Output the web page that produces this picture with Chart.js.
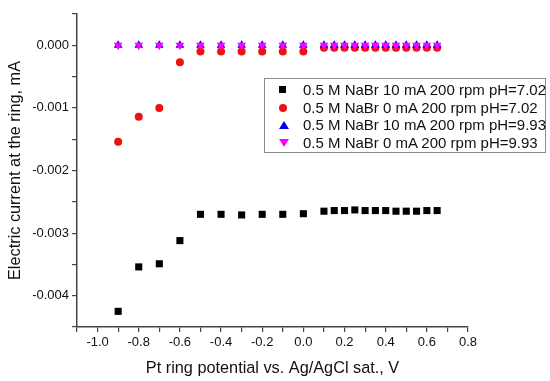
<!DOCTYPE html>
<html>
<head>
<meta charset="utf-8">
<script src="https://cdn.jsdelivr.net/npm/chart.js@4/dist/chart.umd.min.js"></script>
<style>
    body { margin: 0; background: #fff; overflow: hidden; }
    #wrap { position: relative; width: 550px; height: 381px; }
    #legendBox {
        position: absolute; left: 264px; top: 78px; width: 280px; height: 73px;
        border: 1px solid #8a8a8a; background: #fff;
        font-family: "Liberation Sans", Arial, sans-serif; font-size: 15px; color: #111;
    }
    .row { position: absolute; left: 0; height: 18px; line-height: 18px; white-space: nowrap; }
    .row .mk { position: absolute; left: 14px; top: 5px; }
    .row .txt { position: absolute; left: 38px; top: 0; }
    .sq { width: 7px; height: 7px; background: #000; }
    .ci { width: 8px; height: 8px; border-radius: 50%; background: #ee1111; top: 5px !important; }
    .up { width: 0; height: 0; border-left: 5px solid transparent; border-right: 5px solid transparent; border-bottom: 8px solid #0000ee; }
    .dn { width: 0; height: 0; border-left: 5px solid transparent; border-right: 5px solid transparent; border-top: 8px solid #ff00ff; }
</style>
</head>
<body>
<div id="wrap">
    <canvas id="ringChart" width="550" height="381"></canvas>
    <div id="legendBox"></div>
</div>
<script>
// potentials, V
var potentials = [-0.9, -0.8, -0.7, -0.6, -0.5, -0.4, -0.3, -0.2, -0.1, 0.0,
    0.1, 0.15, 0.2, 0.25, 0.3, 0.35, 0.4, 0.45, 0.5, 0.55, 0.6, 0.65];

// ring current, mA
var ph702_10mA = [-0.00425, -0.00354, -0.00349, -0.00312, -0.00270, -0.00270, -0.00271, -0.00270, -0.00270, -0.00269,
    -0.00265, -0.00264, -0.00264, -0.00263, -0.00264, -0.00264, -0.00264, -0.00265, -0.00265, -0.00265, -0.00264, -0.00264];
var ph702_0mA = [-0.00154, -0.00114, -0.00100, -0.00027, -0.00010, -0.00010, -0.00010, -0.00010, -0.00010, -0.00010,
    -0.00004, -0.00004, -0.00004, -0.00004, -0.00004, -0.00004, -0.00004, -0.00004, -0.00004, -0.00004, -0.00004, -0.00004];
var ph993_10mA = [0, 0, 0, 0, 0, 0, 0, 0, 0, 0, 0, 0, 0, 0, 0, 0, 0, 0, 0, 0, 0, 0];
var ph993_0mA = [0, 0, 0, 0, 0, 0, 0, 0, 0, 0, 0, 0, 0, 0, 0, 0, 0, 0, 0, 0, 0, 0];

var seriesLabels = [
    '0.5 M NaBr 10 mA 200 rpm pH=7.02',
    '0.5 M NaBr 0 mA 200 rpm pH=7.02',
    '0.5 M NaBr 10 mA 200 rpm pH=9.93',
    '0.5 M NaBr 0 mA 200 rpm pH=9.93'
];
var markerClasses = ['sq', 'ci', 'up', 'dn'];

function toPoints(ys) {
    return potentials.map(function (x, i) { return { x: x, y: ys[i] }; });
}

// html legend box
var legendBox = document.getElementById('legendBox');
seriesLabels.forEach(function (label, i) {
    var row = document.createElement('div');
    row.className = 'row';
    row.style.top = (2 + i * 17.7) + 'px';
    row.innerHTML = '<div class="mk ' + markerClasses[i] + '"></div><span class="txt">' + label + '</span>';
    legendBox.appendChild(row);
});

var axisColor = '#444';
var tickFont = { family: '"Liberation Sans", Arial, sans-serif', size: 13 };
var titleFont = { family: '"Liberation Sans", Arial, sans-serif', size: 16.3 };

var ctx = document.getElementById('ringChart').getContext('2d');
new Chart(ctx, {
    type: 'scatter',
    data: {
        datasets: [{
            label: seriesLabels[0],
            data: toPoints(ph702_10mA),
            pointStyle: 'rect',
            pointRadius: 5,
            backgroundColor: '#000',
            borderColor: '#000',
            borderWidth: 0,
            order: 4
        }, {
            label: seriesLabels[1],
            data: toPoints(ph702_0mA),
            pointStyle: 'circle',
            pointRadius: 4,
            backgroundColor: '#ee1111',
            borderColor: '#ee1111',
            borderWidth: 0,
            order: 3
        }, {
            label: seriesLabels[2],
            data: toPoints(ph993_10mA),
            pointStyle: 'triangle',
            pointRadius: 5,
            backgroundColor: '#0000ee',
            borderColor: '#0000ee',
            borderWidth: 0,
            order: 2
        }, {
            label: seriesLabels[3],
            data: toPoints(ph993_0mA),
            pointStyle: 'triangle',
            rotation: 180,
            pointRadius: 5,
            backgroundColor: '#ff00ff',
            borderColor: '#ff00ff',
            borderWidth: 0,
            order: 1
        }]
    },
    options: {
        responsive: false,
        animation: false,
        devicePixelRatio: 1,
        layout: { padding: { top: 14, right: 82, left: 0, bottom: 0 } },
        plugins: {
            legend: { display: false },
            tooltip: { enabled: false }
        },
        scales: {
            x: {
                type: 'linear',
                min: -1.1,
                max: 0.8,
                afterFit: function (s) { s.height = 54; },
                border: { display: true, color: axisColor, width: 1.5 },
                grid: { drawOnChartArea: false, drawTicks: true, tickLength: 5, color: axisColor, lineWidth: 1.2 },
                ticks: {
                    stepSize: 0.1,
                    autoSkip: false,
                    maxRotation: 0,
                    padding: 3,
                    color: '#111',
                    font: tickFont,
                    callback: function (value) {
                        var n = Math.round(value * 10);
                        if (Math.abs(n) % 2 !== 0) return '';
                        return (n / 10).toFixed(1);
                    }
                },
                title: {
                    display: true,
                    text: 'Pt ring potential vs. Ag/AgCl sat., V',
                    color: '#111',
                    font: titleFont,
                    padding: { top: 0, bottom: 3 }
                }
            },
            y: {
                type: 'linear',
                min: -0.0045,
                max: 0.0005,
                afterFit: function (s) { s.width = 77; },
                border: { display: true, color: axisColor, width: 1.5 },
                grid: { drawOnChartArea: false, drawTicks: true, tickLength: 5, color: axisColor, lineWidth: 1.2 },
                ticks: {
                    stepSize: 0.0005,
                    autoSkip: false,
                    padding: 3,
                    color: '#111',
                    font: tickFont,
                    callback: function (value) {
                        var n = Math.round(value * 10000);
                        if (Math.abs(n) % 10 !== 0) return '';
                        var s = (n / 10000).toFixed(3);
                        return s === '-0.000' ? '0.000' : s;
                    }
                },
                title: {
                    display: true,
                    text: 'Electric current at the ring, mA',
                    color: '#111',
                    font: titleFont,
                    padding: { top: 6, bottom: 0 }
                }
            }
        }
    }
});
</script>
</body>
</html>
